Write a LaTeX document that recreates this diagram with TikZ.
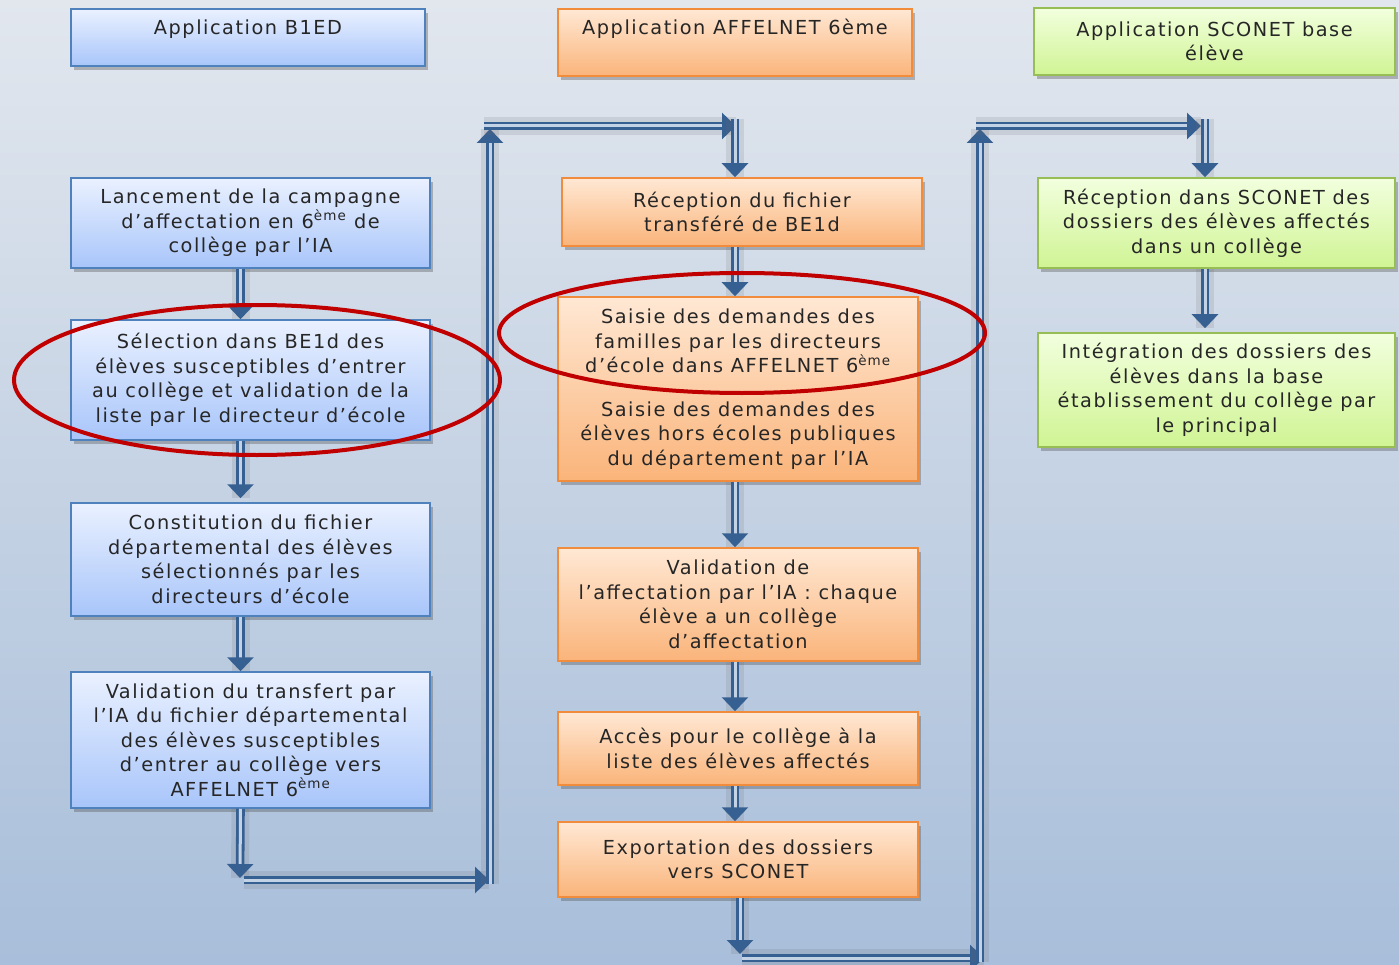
\documentclass[tikz,border=0pt]{standalone}
\usepackage{fontspec}
\usetikzlibrary{arrows.meta,shadows}
\newfontfamily\boxfont{DejaVu Sans}[LetterSpace=8]
\definecolor{bgtop}{RGB}{226,231,238}
\definecolor{bgbot}{RGB}{168,190,218}
\definecolor{bluetop}{RGB}{234,241,255}
\definecolor{bluebot}{RGB}{168,197,250}
\definecolor{blueline}{RGB}{79,129,189}
\definecolor{orangetop}{RGB}{255,232,212}
\definecolor{orangebot}{RGB}{250,180,122}
\definecolor{orangeline}{RGB}{240,140,60}
\definecolor{greentop}{RGB}{242,255,222}
\definecolor{greenbot}{RGB}{208,244,148}
\definecolor{greenline}{RGB}{150,190,85}
\definecolor{arrowblue}{RGB}{55,96,146}
\definecolor{arrowin}{RGB}{195,210,228}
\definecolor{ringred}{RGB}{192,0,0}
\tikzset{
  box/.style={draw, line width=1.5pt, align=center, inner sep=0pt,
    font=\boxfont\fontsize{19.3}{24.5}\selectfont, text=black!85,
    drop shadow={shadow xshift=3pt, shadow yshift=-4pt, opacity=.35, fill=black!70}},
  bluebox/.style={box, draw=blueline, top color=bluetop, bottom color=bluebot, minimum width=359pt},
  orangebox/.style={box, draw=orangeline, top color=orangetop, bottom color=orangebot, minimum width=360pt},
  greenbox/.style={box, draw=greenline, top color=greentop, bottom color=greenbot, minimum width=357pt},
  arr/.style={draw=arrowblue, line width=2.8pt, double=arrowin, double distance=3pt,
    -{Triangle[length=14pt,width=26pt]},
    preaction={draw=black!60, opacity=.15, line width=18pt, double=none, arrows=-}},
  ring/.style={draw=ringred, line width=4pt}
}
\begin{document}
\begin{tikzpicture}[x=1pt,y=-1pt]
\useasboundingbox (0,0) rectangle (1399,965);
\shade[top color=bgtop, bottom color=bgbot] (0,0) rectangle (1399,965);

% headers
\node[bluebox, minimum width=354pt, minimum height=57pt, text height=14pt, text depth=19pt] (h1) at (248,37.5) {Application B1ED};
\node[orangebox, minimum width=354pt, minimum height=67pt, text height=14pt, text depth=29pt] (h2) at (735,42.5) {Application AFFELNET 6ème};
\node[greenbox, minimum width=361pt, minimum height=67pt] (h3) at (1214.5,41.5) {Application SCONET base\\élève};

% column 1
\node[bluebox, minimum height=90pt] (b1) at (250.5,223) {Lancement de la campagne\\d’affectation en 6\textsuperscript{ème} de\\collège par l’IA};
\node[bluebox, minimum height=120pt] (b2) at (250.5,380) {Sélection dans BE1d des\\élèves susceptibles d’entrer\\au collège et validation de la\\liste par le directeur d’école};
\node[bluebox, minimum height=113pt] (b3) at (250.5,559.5) {Constitution du fichier\\départemental des élèves\\sélectionnés par les\\directeurs d’école};
\node[bluebox, minimum height=136pt] (b4) at (250.5,740) {Validation du transfert par\\l’IA du fichier départemental\\des élèves susceptibles\\d’entrer au collège vers\\AFFELNET 6\textsuperscript{ème}};

% column 2
\node[orangebox, minimum height=68pt] (o1) at (742,212) {Réception du fichier\\transféré de BE1d};
\node[orangebox, minimum height=184pt] (o2) at (738,389) {Saisie des demandes des\\familles par les directeurs\\d’école dans AFFELNET 6\textsuperscript{ème}\\[19pt]Saisie des demandes des\\élèves hors écoles publiques\\du département par l’IA};
\node[orangebox, minimum height=113pt] (o3) at (738,604.5) {Validation de\\l’affectation par l’IA : chaque\\élève a un collège\\d’affectation};
\node[orangebox, minimum height=73pt] (o4) at (738,748.5) {Accès pour le collège à la\\liste des élèves affectés};
\node[orangebox, minimum height=75pt] (o5) at (738,859.5) {Exportation des dossiers\\vers SCONET};

% column 3
\node[greenbox, minimum height=90pt] (g1) at (1216.5,223) {Réception dans SCONET des\\dossiers des élèves affectés\\dans un collège};
\node[greenbox, minimum height=114pt] (g2) at (1216.5,390) {Intégration des dossiers des\\élèves dans la base\\établissement du collège par\\le principal};

% corner points
\coordinate (k1) at (240,878);
\coordinate (k2) at (244,880);
\coordinate (k3) at (489,880);
\coordinate (k4) at (490,884);
\coordinate (k5) at (490,129);
\coordinate (k6) at (484,126);
\coordinate (k7) at (736,126);
\coordinate (k8) at (735,119);
\coordinate (m1) at (740,954);
\coordinate (m2) at (742,958);
\coordinate (m3) at (984,958);
\coordinate (m4) at (980,962);
\coordinate (m5) at (980,129);
\coordinate (m6) at (976,126);
\coordinate (m7) at (1201,126);
\coordinate (m8) at (1205,119);

% column 1 arrows
\draw[arr] ([xshift=-10pt]b1.south) -- ([xshift=-10pt]b2.north);
\draw[arr] ([xshift=-10pt]b2.south) -- ([xshift=-10pt,yshift=4pt]b3.north);
\draw[arr] ([xshift=-10pt]b3.south) -- ([xshift=-10pt]b4.north);
\draw[arr] ([xshift=-10pt]b4.south) -- (k1);
\draw[arr] (k2) -- (k3);
\draw[arr] (k4) -- (k5);
\draw[arr] (k6) -- (k7);
\draw[arr] (k8) -- (o1.north -| k8);

% column 2 arrows
\draw[arr] (o1.south -| k8) -- (o2.north -| k8);
\draw[arr] (o2.south -| k8) -- (o3.north -| k8);
\draw[arr] (o3.south -| k8) -- (o4.north -| k8);
\draw[arr] (o4.south -| k8) -- (o5.north -| k8);
\draw[arr] (o5.south -| m1) -- (m1);
\draw[arr] (m2) -- (m3);
\draw[arr] (m4) -- (m5);
\draw[arr] (m6) -- (m7);
\draw[arr] (m8) -- (g1.north -| m8);

% column 3 arrow
\draw[arr] (g1.south -| m8) -- ([yshift=4pt]g2.north -| m8);

% red rings
\draw[ring] (257,380) ellipse [x radius=243, y radius=75];
\draw[ring] (742,333) ellipse [x radius=243, y radius=60];
\end{tikzpicture}
\end{document}
